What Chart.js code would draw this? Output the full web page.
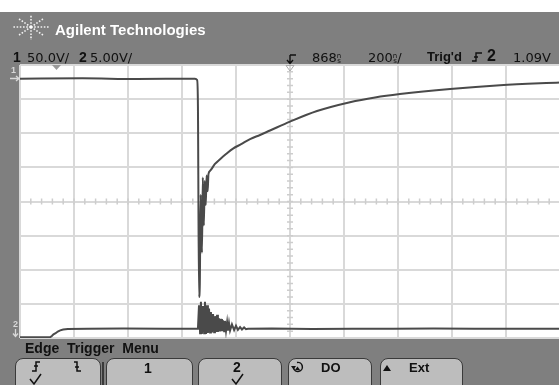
<!DOCTYPE html>
<html>
<head>
<meta charset="utf-8">
<title>Agilent scope capture</title>
<script src="https://cdn.jsdelivr.net/npm/chart.js@4.4.1/dist/chart.umd.min.js"></script>
<style>
  body { margin:0; width:559px; height:385px; overflow:hidden; position:relative; background:#fff;
         font-family:"Liberation Sans", Arial, sans-serif; }
  .panel { position:absolute; background:#7f7f7f; }
  .txt { position:absolute; white-space:nowrap; line-height:1; color:#111; }
  .num { font-family:"DejaVu Sans", sans-serif; font-size:13px; }
  .b { font-weight:bold; }
  .key { position:absolute; top:358px; height:40px; box-sizing:border-box; background:#bdbdbd;
         border:1.5px solid #3a3a3a; border-radius:8px; }
  .ns { display:inline-block; font-size:7px; line-height:5px; vertical-align:-1px; text-align:center; }
  #scope { position:absolute; left:0; top:60px; }
  #deco { position:absolute; left:0; top:0; }
</style>
</head>
<body>
<div class="panel" style="left:0;top:12px;width:559px;height:53px"></div>
<div class="panel" style="left:0;top:65px;width:20px;height:273px"></div>
<div class="panel" style="left:0;top:338px;width:559px;height:47px"></div>

<canvas id="scope" width="570" height="283"></canvas>

<!-- softkeys -->
<div class="key" style="left:15px;width:86px"></div>
<div style="position:absolute;left:102px;top:362px;width:1.5px;height:30px;background:#3a3a3a"></div>
<div class="key" style="left:106px;width:87px"></div>
<div class="key" style="left:198px;width:84px"></div>
<div class="key" style="left:288px;width:84px"></div>
<div class="key" style="left:380px;width:83px"></div>

<svg id="deco" width="559" height="385">
  <!-- logo starburst -->
  <g stroke="#f2f2f2" stroke-width="1.6" stroke-dasharray="1.6 1.6" fill="none">
    <path d="M31 27 H13 M31 27 H50 M31 27 V15 M31 27 V40
             M31 27 L19 19 M31 27 L43 19 M31 27 L19 35 M31 27 L43 35"/>
  </g>
  <circle cx="31" cy="27" r="1.6" fill="#fff"/>
  <!-- delay reference -->
  <path d="M290 55 H296 M290 55 V63 M287 60 L290 63.5 L293 60" stroke="#111" stroke-width="1.4" fill="none"/>
  <polygon points="286,65.5 294,65.5 290,71" fill="none" stroke="#aaa" stroke-width="1"/>
  <!-- trigger time marker -->
  <polygon points="52,65 61,65 56.5,70" fill="#9a9a9a"/>
  <!-- channel markers -->
  <path d="M10 78.5 H19 M16 76 L19 78.5 L16 81" stroke="#d8d8d8" stroke-width="1.3" fill="none"/>
  <path d="M15.5 329 V336 M13 333.5 L15.5 336.5 L18 333.5" stroke="#d8d8d8" stroke-width="1.3" fill="none"/>
  <!-- trigger slope in header -->
  <path d="M472 61 H476 V53 H482 M474 57 H478" stroke="#111" stroke-width="1.4" fill="none"/>
  <!-- softkey icons -->
  <g stroke="#111" stroke-width="1.5" fill="none">
    <path d="M32 371 H36 V362 H40 M34 366 H38"/>
    <path d="M74 362 H77 V371 H81 M75 367 H79"/>
    <path d="M30 379 L34 384 L41 374"/>
    <path d="M232 379 L236 384 L243 374"/>
    <path d="M293.5 368 A4.5 4.5 0 1 0 297 362.5"/>
  </g>
  <polygon points="291,366 296,366 293.5,369.5" fill="#111"/>
  <polygon points="295,370 300,370 297.5,366.5" fill="#111"/>
  <polygon points="383,371 391,371 387,365" fill="#111"/>
</svg>

<!-- header text -->
<div class="txt b" style="left:55px;top:22px;font-size:15px;color:#fff">Agilent Technologies</div>
<div class="txt b" style="left:13px;top:50px;font-size:14px">1</div>
<div class="txt num" style="left:27px;top:51px">50.0V/</div>
<div class="txt b" style="left:79px;top:50px;font-size:14px">2</div>
<div class="txt num" style="left:90px;top:51px">5.00V/</div>
<div class="txt num" style="left:312px;top:51px">868<span class="ns">n<br>s</span></div>
<div class="txt num" style="left:368px;top:51px">200<span class="ns">n<br>s</span>/</div>
<div class="txt b" style="left:427px;top:50px;font-size:13px">Trig'd</div>
<div class="txt b" style="left:487px;top:48px;font-size:16px">2</div>
<div class="txt num" style="left:513px;top:51px">1.09V</div>
<div class="txt b" style="left:11px;top:66px;font-size:9px;color:#d8d8d8">1</div>
<div class="txt b" style="left:13px;top:320px;font-size:9px;color:#d8d8d8">2</div>

<!-- softkey text -->
<div class="txt b" style="left:25px;top:341px;font-size:14px">Edge&nbsp; Trigger&nbsp; Menu</div>
<div class="txt b" style="left:144px;top:361px;font-size:14px">1</div>
<div class="txt b" style="left:233px;top:360px;font-size:14px">2</div>
<div class="txt b" style="left:321px;top:361px;font-size:13px">DO</div>
<div class="txt b" style="left:409px;top:361px;font-size:13px">Ext</div>

<script>
// scope settings from the status line
var timePerDiv = 200;   // ns / div
var delay = 868;        // ns at screen centre
var ch1PerDiv = 50;     // V / div
var ch2PerDiv = 5;      // V / div
var ch1Top = 20;        // V at top edge (ch1 ground marker just below)
var ch2Bottom = 0.4;    // V at bottom edge

// channel 1 : time (ns) / volts
var ch1Time = [-132, 100, 300, 516, 524, 527, 531, 534, 537, 542,
               545, 549, 552, 556, 559, 563, 566, 572, 590, 609,
               631, 657, 687, 720, 757, 794, 868, 968, 1090, 1183,
               1275, 1461, 1646, 1868];
var ch1Volt = [0, 0.5, -0.5, 0, -2, -40, -320, -300, -170, -255,
               -145, -215, -150, -185, -142, -165, -140, -135, -125, -118,
               -110.5, -102.5, -96, -88.5, -82.5, -76, -63, -47.5, -34.5, -27.5,
               -22.5, -15, -9.5, -5.5];

// channel 2 : time (ns) / volts
var ch2Time = [-132, -60, -21, -14, -8, 0, 8, 17, 28, 45,
               120, 250, 400, 520, 527, 531, 535, 538, 542, 546,
               550, 553, 557, 561, 564, 568, 572, 575, 579, 583,
               587, 590, 594, 598, 601, 605, 609, 613, 616, 620,
               624, 627, 631, 635, 638, 642, 646, 653, 661, 668,
               675, 683, 690, 698, 705, 712, 800, 950, 1100, 1250,
               1400, 1550, 1700, 1868];
var ch2Volt = [0.5, 0.5, 0.5, 0.7, 0.95, 1.1, 1.35, 1.52, 1.65, 1.72,
               1.75, 1.78, 1.74, 1.75, 1.75, 5.2, 1.1, 5.7, 1.0, 5.1,
               1.1, 5.7, 1.0, 5.2, 1.15, 4.7, 1.2, 4.2, 1.2, 3.9,
               1.25, 3.6, 1.3, 3.8, 1.3, 3.3, 1.35, 3.2, 1.4, 3.0,
               1.4, 2.9, 1.45, 2.7, 1.5, 2.6, 1.5, 2.4, 1.55, 2.2,
               1.6, 2.0, 1.65, 1.95, 1.7, 1.75, 1.8, 1.73, 1.77, 1.74,
               1.78, 1.75, 1.77, 1.76];

// 10 x 8 division graticule
var tLeft = delay - 5 * timePerDiv;
var xDivs = [0, 1, 2, 3, 4, 5, 6, 7, 8, 9, 10];
var yDivs = [0, 1, 2, 3, 4, 5, 6, 7, 8];

var screenBg = {
    id: 'screenBg',
    beforeDraw: function(chart) {
        var a = chart.chartArea, ctx = chart.ctx;
        ctx.save();
        ctx.fillStyle = '#ffffff';
        ctx.fillRect(a.left, a.top, a.right - a.left, a.bottom - a.top);
        ctx.restore();
    }
};

// small marks on the centre lines, 5 per division
var centreTicks = {
    id: 'centreTicks',
    beforeDatasetsDraw: function(chart) {
        var ctx = chart.ctx, x = chart.scales.x, y = chart.scales.y;
        var xc = x.getPixelForValue(delay);
        var yc = y.getPixelForValue(ch1Top - 4 * ch1PerDiv);
        ctx.save();
        ctx.strokeStyle = '#cdcdcd';
        ctx.lineWidth = 1.5;
        ctx.beginPath();
        for (var i = 1; i < 50; i++) {
            var px = x.getPixelForValue(tLeft + i * timePerDiv / 5);
            ctx.moveTo(px, yc - 3); ctx.lineTo(px, yc + 3);
        }
        for (var j = 1; j < 40; j++) {
            var py = y.getPixelForValue(ch1Top - j * ch1PerDiv / 5);
            ctx.moveTo(xc - 3, py); ctx.lineTo(xc + 3, py);
        }
        ctx.stroke();
        ctx.restore();
    }
};

var scope = new Chart(document.getElementById('scope'), {
    type: 'line',
    data: {
        datasets: [{
            label: '1',
            data: ch1Time.map(function(t, i) { return {x: t, y: ch1Volt[i]}; }),
            yAxisID: 'y',
            borderColor: '#4a4a4a',
            borderWidth: 2,
            pointRadius: 0,
            cubicInterpolationMode: 'monotone'
        },
        {
            label: '2',
            data: ch2Time.map(function(t, i) { return {x: t, y: ch2Volt[i]}; }),
            yAxisID: 'y2',
            borderColor: '#4a4a4a',
            borderWidth: 2,
            pointRadius: 0,
            tension: 0
        }]
    },
    options: {
        responsive: false,
        animation: false,
        events: [],
        layout: { padding: { left: 20, top: 5, right: 10, bottom: 5 } },
        plugins: {
            legend: { display: false },
            tooltip: { enabled: false }
        },
        scales: {
            x: {
                type: 'linear',
                min: tLeft,
                max: tLeft + 10 * timePerDiv,
                afterBuildTicks: function(s) {
                    s.ticks = xDivs.map(function(d) { return {value: tLeft + d * timePerDiv}; });
                },
                ticks: { display: false },
                border: { display: false },
                grid: { color: '#d9d9d9', lineWidth: 2, drawTicks: false }
            },
            y: {
                type: 'linear',
                min: ch1Top - 8 * ch1PerDiv,
                max: ch1Top,
                afterBuildTicks: function(s) {
                    s.ticks = yDivs.map(function(d) { return {value: ch1Top - d * ch1PerDiv}; });
                },
                ticks: { display: false },
                border: { display: false },
                grid: { color: '#d9d9d9', lineWidth: 2, drawTicks: false }
            },
            y2: {
                type: 'linear',
                display: false,
                min: ch2Bottom,
                max: ch2Bottom + 8 * ch2PerDiv
            }
        }
    },
    plugins: [screenBg, centreTicks]
});
</script>
</body>
</html>
